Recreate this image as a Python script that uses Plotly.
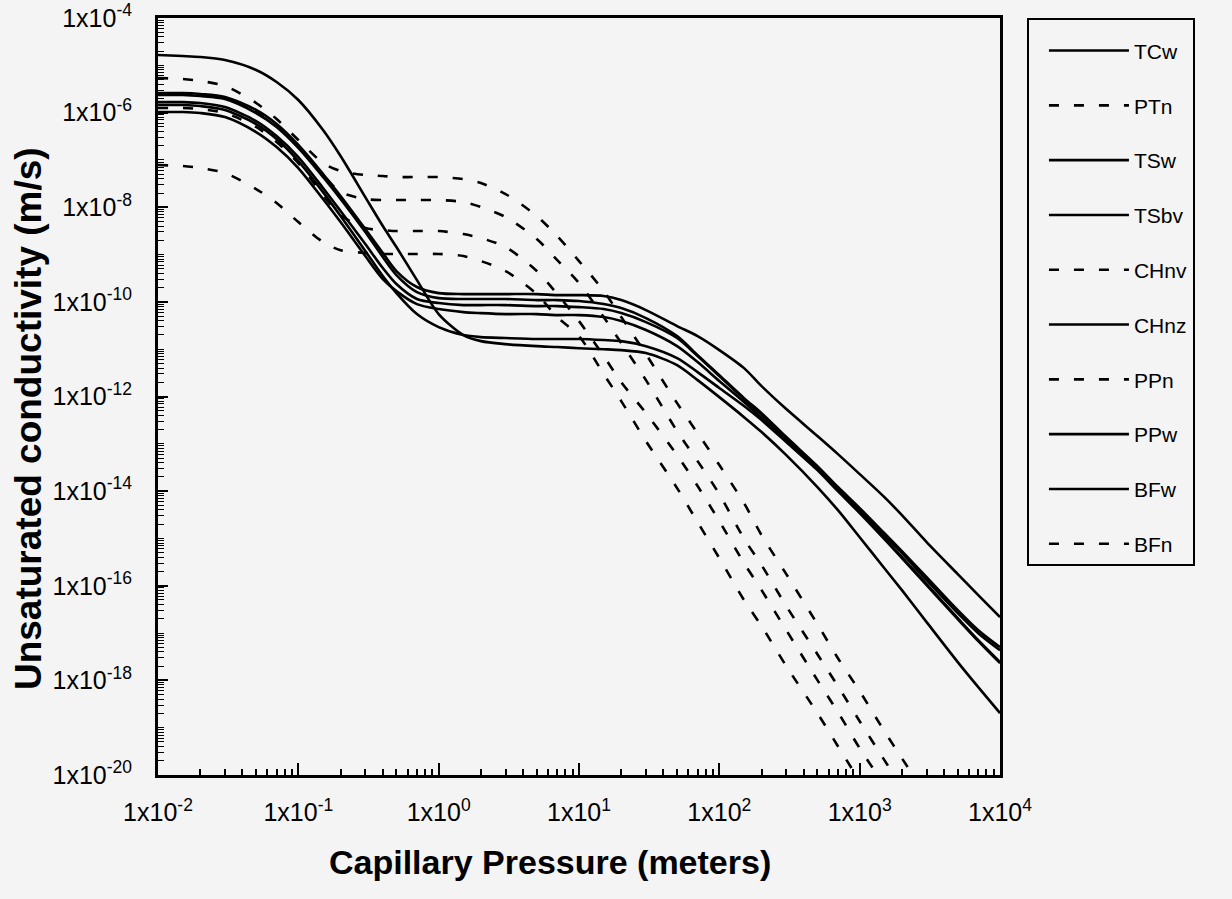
import plotly.graph_objects as go

# Capillary pressure (m) sampling positions
x_pressure = [0.01, 0.015, 0.02, 0.03, 0.05, 0.07, 0.1, 0.15, 0.2, 0.3, 0.4, 0.5, 0.7,
              1, 1.5, 2, 3, 5, 7, 10, 15, 20, 30, 50, 70, 100, 150, 200, 300, 500, 700,
              1000, 1500, 2000, 3000, 5000, 7000, 10000]

# Unsaturated conductivity (m/s)
k_TCw = [1.65e-5, 1.57e-5, 1.50e-5, 1.29e-5, 7.96e-6, 4.44e-6, 1.85e-6, 4.29e-7, 1.21e-7,
         1.64e-8, 4.01e-9, 1.44e-9, 2.89e-10, 5.52e-11, 1.99e-11, 1.48e-11, 1.28e-11,
         1.16e-11, 1.11e-11, 1.05e-11, 1.00e-11, 9.57e-12, 8.28e-12, 4.61e-12, 2.22e-12,
         9.70e-13, 3.66e-13, 1.77e-13, 5.77e-14, 1.22e-14, 3.96e-15, 1.06e-15, 2.35e-16,
         8.07e-17, 1.70e-17, 2.43e-18, 7.18e-19, 2.03e-19]
k_PTn = [5.39e-6, 5.13e-6, 4.66e-6, 3.65e-6, 1.60e-6, 7.33e-7, 2.64e-7, 8.59e-8, 5.82e-8,
         4.80e-8, 4.57e-8, 4.35e-8, 4.35e-8, 4.35e-8, 3.94e-8, 3.25e-8, 1.90e-8, 6.52e-9,
         2.46e-9, 7.29e-10, 1.69e-10, 4.77e-11, 7.87e-12, 7.24e-13, 1.68e-13, 3.55e-14,
         5.57e-15, 1.17e-15, 1.76e-16, 1.54e-17, 2.94e-18, 5.92e-19, 8.43e-20, 2.26e-20,
         3.56e-21]
k_TSw = [2.59e-6, 2.59e-6, 2.47e-6, 2.14e-6, 1.14e-6, 5.74e-7, 2.07e-7, 5.04e-8, 1.73e-8,
         3.46e-9, 1.08e-9, 4.48e-10, 2.06e-10, 1.53e-10, 1.46e-10, 1.46e-10, 1.46e-10,
         1.46e-10, 1.39e-10, 1.39e-10, 1.33e-10, 1.09e-10, 6.71e-11, 3.08e-11, 1.89e-11,
         9.57e-12, 3.98e-12, 1.66e-12, 5.42e-13, 1.46e-13, 6.05e-14, 2.29e-14, 7.46e-15,
         3.11e-15, 8.36e-16, 1.76e-16, 6.32e-17, 2.17e-17]
k_TSbv = [2.36e-6, 2.36e-6, 2.24e-6, 1.94e-6, 9.82e-7, 4.97e-7, 1.79e-7, 4.35e-8, 1.49e-8,
          2.99e-9, 8.85e-10, 3.69e-10, 1.61e-10, 1.20e-10, 1.15e-10, 1.15e-10, 1.15e-10,
          1.09e-10, 1.09e-10, 1.04e-10, 8.98e-11, 7.39e-11, 4.55e-11, 1.89e-11, 7.50e-12,
          2.83e-12, 9.25e-13, 4.46e-13, 1.39e-13, 3.38e-14, 1.22e-14, 4.38e-15, 1.29e-15,
          5.39e-16, 1.52e-16, 3.05e-17, 1.15e-17, 5.04e-18]
k_CHnv = [2.47e-6, 2.47e-6, 2.36e-6, 2.04e-6, 1.08e-6, 5.21e-7, 1.87e-7, 4.80e-8, 2.09e-8,
          1.49e-8, 1.42e-8, 1.42e-8, 1.42e-8, 1.42e-8, 1.29e-8, 1.01e-8, 6.21e-9, 2.13e-9,
          7.66e-10, 2.49e-10, 4.77e-11, 1.35e-11, 2.22e-12, 1.85e-13, 4.31e-14, 8.65e-15,
          9.91e-16, 2.73e-16, 3.71e-17, 3.58e-18, 7.53e-19, 1.37e-19, 2.06e-20, 5.52e-21]
k_CHnz = [1.67e-6, 1.67e-6, 1.60e-6, 1.31e-6, 6.64e-7, 3.20e-7, 1.15e-7, 2.55e-8, 8.32e-9,
          1.67e-9, 5.19e-10, 2.38e-10, 1.15e-10, 9.44e-11, 8.55e-11, 8.55e-11, 8.55e-11,
          8.15e-11, 8.15e-11, 7.76e-11, 7.05e-11, 5.79e-11, 3.74e-11, 1.72e-11, 7.14e-12,
          2.70e-12, 8.81e-13, 4.05e-13, 1.26e-13, 3.06e-14, 1.10e-14, 3.96e-15, 1.17e-15,
          4.89e-16, 1.31e-16, 2.64e-17, 9.95e-18, 4.35e-18]
k_PPn = [1.25e-6, 1.25e-6, 1.19e-6, 9.82e-7, 4.97e-7, 2.39e-7, 8.59e-8, 1.81e-8, 6.84e-9,
         3.63e-9, 3.30e-9, 3.14e-9, 3.14e-9, 3.14e-9, 2.71e-9, 2.23e-9, 1.44e-9, 4.48e-10,
         1.46e-10, 3.93e-11, 7.14e-12, 2.01e-12, 4.46e-13, 5.77e-14, 1.28e-14, 2.32e-15,
         3.01e-16, 8.07e-17, 1.15e-17, 1.01e-18, 2.13e-19, 3.69e-20, 6.08e-21]
k_PPw = [1.03e-6, 1.03e-6, 9.82e-7, 8.07e-7, 3.89e-7, 1.87e-7, 6.75e-8, 1.49e-8, 4.86e-9,
         9.29e-10, 3.03e-10, 1.69e-10, 8.98e-11, 7.05e-11, 6.08e-11, 5.79e-11, 5.52e-11,
         5.52e-11, 5.26e-11, 5.26e-11, 4.77e-11, 3.93e-11, 2.54e-11, 1.16e-11, 5.33e-12,
         2.12e-12, 7.62e-13, 3.49e-13, 1.14e-13, 2.92e-14, 1.05e-14, 3.60e-15, 1.01e-15,
         4.03e-16, 1.08e-16, 2.07e-17, 7.08e-18, 2.43e-18]
k_BFw = [1.45e-6, 1.45e-6, 1.38e-6, 1.14e-6, 5.74e-7, 2.77e-7, 9.48e-8, 2.09e-8, 6.52e-9,
         1.19e-9, 3.51e-10, 1.53e-10, 5.52e-11, 2.93e-11, 1.99e-11, 1.80e-11, 1.72e-11,
         1.64e-11, 1.64e-11, 1.64e-11, 1.56e-11, 1.48e-11, 1.16e-11, 6.49e-12, 3.28e-12,
         1.51e-12, 6.27e-13, 3.17e-13, 1.09e-13, 2.78e-14, 1.00e-14, 3.43e-15, 9.66e-16,
         3.84e-16, 1.03e-16, 1.97e-17, 6.75e-18, 2.31e-18]
k_BFn = [7.80e-8, 7.43e-8, 6.75e-8, 5.28e-8, 2.43e-8, 1.23e-8, 4.86e-9, 1.84e-9, 1.24e-9,
         1.08e-9, 1.03e-9, 1.03e-9, 1.03e-9, 1.03e-9, 9.29e-10, 7.29e-10, 4.48e-10, 1.46e-10,
         4.77e-11, 1.89e-11, 2.98e-12, 8.00e-13, 1.14e-13, 1.16e-14, 2.21e-15, 3.84e-16,
         4.97e-17, 1.40e-17, 2.00e-18, 2.03e-19, 4.06e-20, 7.40e-21]

unit_names = ["TCw", "PTn", "TSw", "TSbv", "CHnv", "CHnz", "PPn", "PPw", "BFw", "BFn"]
unit_values = [k_TCw, k_PTn, k_TSw, k_TSbv, k_CHnv, k_CHnz, k_PPn, k_PPw, k_BFw, k_BFn]
unit_dashed = [False, True, False, False, True, False, True, False, False, True]

x_tick_vals = [1e-2, 1e-1, 1e0, 1e1, 1e2, 1e3, 1e4]
x_tick_text = ["1x10<sup>-2</sup>", "1x10<sup>-1</sup>", "1x10<sup>0</sup>", "1x10<sup>1</sup>",
               "1x10<sup>2</sup>", "1x10<sup>3</sup>", "1x10<sup>4</sup>"]
y_tick_exponents = [-20, -18, -16, -14, -12, -10, -8, -6, -4]
y_tick_text = ["1x10<sup>%d</sup>" % e for e in y_tick_exponents]

x_title = "<b>Capillary Pressure (meters)</b>"
y_title = "<b>Unsaturated conductivity (m/s)</b>"

BG = "#f4f4f4"
FONT = "Liberation Sans, Arial, Helvetica, sans-serif"

fig = go.Figure()
for name, k, dashed in zip(unit_names, unit_values, unit_dashed):
    fig.add_trace(go.Scatter(
        x=x_pressure[:len(k)], y=k, name=name, mode="lines", legendgroup=name,
        line=dict(color="black", width=2.6, dash="10px,15px" if dashed else "solid",
                  shape="spline", smoothing=0.8),
    ))

x_minor = [m * 10.0 ** d for d in range(-2, 4) for m in range(2, 10)]
y_minor = [m * 10.0 ** d for d in range(-20, -4) for m in range(1, 10)
           if not (m == 1 and d % 2 == 0)]

fig.update_xaxes(
    type="log", range=[-2, 4], tickvals=x_tick_vals, ticktext=x_tick_text,
    ticks="inside", ticklen=12, tickwidth=2, tickcolor="black",
    minor=dict(ticks="inside", ticklen=6, tickwidth=1.5, tickcolor="black",
               tickvals=x_minor, showgrid=False),
    showline=True, linewidth=3, linecolor="black", mirror=True,
    showgrid=False, zeroline=False, ticklabelstandoff=13,
    tickfont=dict(size=25, color="black", family=FONT),
)
fig.update_yaxes(
    type="log", range=[-20, -4], tickvals=[10.0 ** e for e in y_tick_exponents],
    ticktext=y_tick_text,
    ticks="inside", ticklen=10, tickwidth=2, tickcolor="black",
    minor=dict(ticks="inside", ticklen=6, tickwidth=1.2, tickcolor="black",
               tickvals=y_minor, showgrid=False),
    showline=True, linewidth=3, linecolor="black", mirror=True,
    showgrid=False, zeroline=False, ticklabelstandoff=18,
    tickfont=dict(size=25, color="black", family=FONT),
)

fig.update_layout(
    width=1232, height=899,
    margin=dict(l=158, r=232, t=18, b=124, autoexpand=False),
    paper_bgcolor=BG, plot_bgcolor=BG,
    font=dict(family=FONT, color="black", size=20),
    showlegend=True,
    legend=dict(x=1.032, y=1.0, xanchor="left", yanchor="top",
                bordercolor="black", borderwidth=2, bgcolor=BG,
                font=dict(size=21, family=FONT, color="black"),
                title=dict(text=" ", font=dict(size=8)),
                tracegroupgap=24.5, itemwidth=80, indentation=15),
    annotations=[
        dict(text=x_title, xref="paper", yref="paper", x=0.4656, y=-0.115,
             xanchor="center", yanchor="middle", showarrow=False,
             font=dict(size=34, family=FONT, color="black")),
        dict(text=y_title, xref="paper", yref="paper", x=-0.1544, y=0.4715,
             xanchor="center", yanchor="middle", showarrow=False, textangle=-90,
             font=dict(size=37, family=FONT, color="black")),
    ],
)

fig.write_html("out.html")
